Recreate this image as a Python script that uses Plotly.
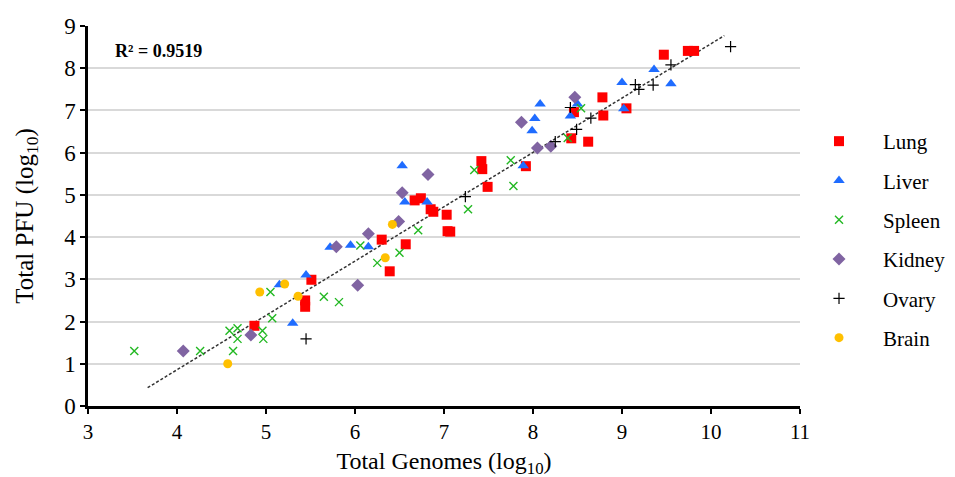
import plotly.graph_objects as go

# ---- data ----
lung_x = [4.87, 5.44, 5.44, 5.51, 6.30, 6.39, 6.57, 6.67, 6.74, 6.85, 6.88, 7.03, 7.04, 7.07,
          7.42, 7.43, 7.49, 7.92, 8.43, 8.46, 8.62, 8.78, 8.79, 9.05, 9.47, 9.74, 9.81]
lung_y = [1.90, 2.50, 2.35, 2.99, 3.94, 3.19, 3.83, 4.87, 4.92, 4.66, 4.60, 4.53, 4.14, 4.13,
          5.80, 5.61, 5.19, 5.68, 6.34, 6.96, 6.26, 7.31, 6.88, 7.05, 8.32, 8.41, 8.41]

liver_x = [5.15, 5.30, 5.45, 5.72, 5.95, 6.15, 6.53, 6.56, 6.81, 7.89, 7.99, 8.02, 8.08,
           8.42, 8.50, 9.00, 9.02, 9.36, 9.55]
liver_y = [2.87, 1.96, 3.10, 3.76, 3.81, 3.77, 5.69, 4.83, 4.83, 5.69, 6.52, 6.81, 7.15,
           6.87, 7.15, 7.66, 7.04, 7.97, 7.63]

spleen_x = [3.52, 4.26, 4.59, 4.63, 4.68, 4.68, 4.96, 4.97, 5.05, 5.07, 5.65, 5.82, 6.06,
            6.25, 6.50, 6.71, 7.27, 7.34, 7.75, 7.78, 8.39, 8.54]
spleen_y = [1.30, 1.30, 1.78, 1.30, 1.84, 1.59, 1.78, 1.59, 2.70, 2.08, 2.59, 2.46, 3.80,
            3.39, 3.63, 4.16, 4.66, 5.59, 5.82, 5.21, 6.35, 7.05]

kidney_x = [4.07, 4.83, 5.79, 6.03, 6.15, 6.49, 6.53, 6.82, 7.87, 8.05, 8.20, 8.47]
kidney_y = [1.30, 1.68, 3.77, 2.86, 4.08, 4.37, 5.05, 5.48, 6.72, 6.11, 6.15, 7.31]

ovary_x = [5.45, 7.24, 8.25, 8.42, 8.49, 8.65, 9.15, 9.19, 9.35, 9.55, 10.22]
ovary_y = [1.59, 4.96, 6.26, 7.07, 6.55, 6.82, 7.61, 7.50, 7.60, 8.08, 8.51]

brain_x = [4.57, 4.93, 5.21, 5.36, 6.34, 6.42]
brain_y = [1.00, 2.70, 2.89, 2.60, 3.51, 4.30]

trend_x = [3.67, 10.15]
trend_slope = 1.287
trend_intercept = -4.29
trend_y = [trend_slope * v + trend_intercept for v in trend_x]

x_ticks = [3, 4, 5, 6, 7, 8, 9, 10, 11]
y_ticks = [0, 1, 2, 3, 4, 5, 6, 7, 8, 9]

FONT = "Liberation Serif, Times New Roman, serif"

fig = go.Figure()

fig.add_trace(go.Scatter(x=trend_x, y=trend_y, mode="lines", showlegend=False,
                         line=dict(color="#333333", width=1.5, dash="3px,2px"), hoverinfo="skip"))

series = [
    ("Lung", lung_x, lung_y, dict(symbol="square", size=10, color="#ff0000")),
    ("Liver", liver_x, liver_y, dict(symbol="triangle-up", size=10, color="#1f6cff")),
    ("Spleen", spleen_x, spleen_y, dict(symbol="x-thin-open", size=8, color="#22b822",
                                         line=dict(width=1.4, color="#22b822"))),
    ("Kidney", kidney_x, kidney_y, dict(symbol="diamond", size=10, color="#8064a2")),
    ("Ovary", ovary_x, ovary_y, dict(symbol="cross-thin-open", size=8, color="#000000",
                                      line=dict(width=1.2, color="#000000"))),
    ("Brain", brain_x, brain_y, dict(symbol="circle", size=9, color="#ffc000")),
]
for name, xs, ys, mk in series:
    fig.add_trace(go.Scatter(x=xs, y=ys, mode="markers", name=name, marker=mk,
                             legendgroup=name))

fig.add_annotation(x=0.035, y=0.935, xref="paper", yref="paper", text="<b>R² = 0.9519</b>",
                   showarrow=False, xanchor="left", yanchor="middle",
                   font=dict(family=FONT, size=18, color="black"))

fig.update_layout(
    width=955, height=477,
    margin=dict(l=80, r=144, t=18, b=79),
    paper_bgcolor="white", plot_bgcolor="white",
    font=dict(family=FONT, color="black"),
    legend=dict(x=0.993, y=0.75, xanchor="left", yanchor="top",
                font=dict(family=FONT, size=21, color="black"),
                itemwidth=78, tracegroupgap=9, bgcolor="rgba(0,0,0,0)"),
)
fig.update_xaxes(range=[3, 11], tickvals=x_ticks, ticks="outside", ticklen=5, tickwidth=2,
                 tickcolor="black", showline=True, linecolor="black", linewidth=2.5,
                 showgrid=False, zeroline=False, tickfont=dict(family=FONT, size=21),
                 automargin=False,
                 title=dict(text="Total Genomes (log<sub>10</sub>)", font=dict(family=FONT, size=24),
                            standoff=10))
fig.update_yaxes(range=[0, 9], tickvals=y_ticks, ticks="outside", ticklen=5, tickwidth=2,
                 tickcolor="black", showline=True, linecolor="black", linewidth=2.5,
                 showgrid=True, gridcolor="#d9d9d9", gridwidth=1.5, zeroline=False,
                 tickfont=dict(family=FONT, size=23), automargin=False,
                 title=dict(text="Total PFU (log<sub>10</sub>)", font=dict(family=FONT, size=25),
                            standoff=24))

fig.write_html("out.html")
